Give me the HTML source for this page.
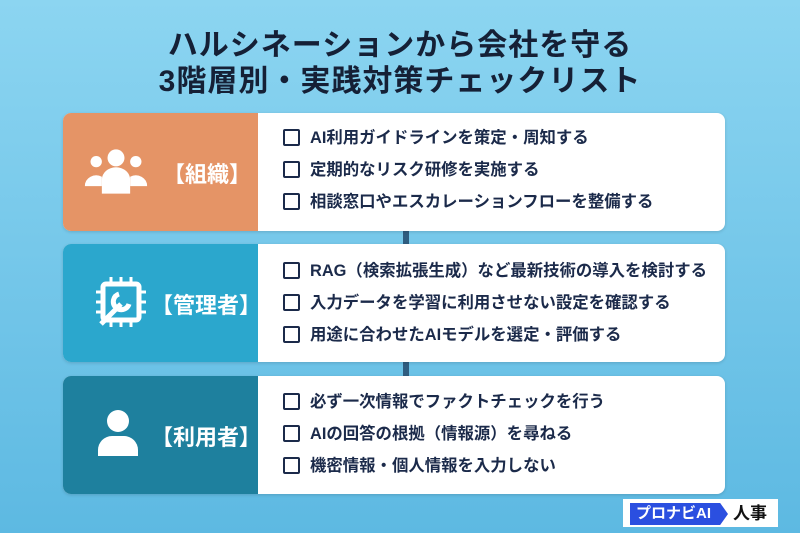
<!DOCTYPE html>
<html><head><meta charset="utf-8"><style>
*{margin:0;padding:0;box-sizing:border-box}
body{width:800px;height:533px;overflow:hidden;background:linear-gradient(#8cd5f1,#5db9e2);font-family:"Liberation Sans","Noto Sans CJK JP",sans-serif;position:relative}
.t{position:absolute;left:0;width:800px;text-align:center;font-weight:bold;font-size:30px;color:#152036;letter-spacing:1px}
.line{position:absolute;left:403px;width:6px;background:#2f5d80}
.card{position:absolute;left:63px;width:662px;height:118px;background:#fff;border-radius:8px;overflow:hidden;box-shadow:0 1px 3px rgba(0,0,0,.15)}
.l{position:absolute;left:0;top:0;width:195px;height:118px;color:#fff;font-weight:bold;font-size:22px}
.l span{position:absolute;top:44px}
.row{position:absolute;left:220px;font-size:16.4px;color:#1b2a4a;font-weight:bold;height:20px;line-height:20px;white-space:nowrap}
.row i{display:inline-block;width:17px;height:17px;border:2px solid #1b2a4a;border-radius:2px;vertical-align:-3px;margin-right:10px}
svg{position:absolute}
</style></head><body>
<div class="t" style="top:20px">ハルシネーションから会社を守る</div>
<div class="t" style="top:56px">3階層別・実践対策チェックリスト</div>
<div class="line" style="top:228px;height:20px"></div>
<div class="line" style="top:359px;height:20px"></div>

<div class="card" style="top:113px">
<div class="l" style="background:#e59466">
<svg width="66" height="50" style="left:20px;top:34px" viewBox="0 0 70 50"><circle cx="35" cy="10" r="9" fill="#fff"/><circle cx="14" cy="14" r="6" fill="#fff"/><circle cx="56" cy="14" r="6" fill="#fff"/><path d="M20 48V33a15 13 0 0 1 30 0v15z" fill="#fff"/><path d="M2 40a12 11 0 0 1 18-10v10z" fill="#fff"/><path d="M68 40a12 11 0 0 0-18-10v10z" fill="#fff"/></svg>
<span style="left:100px">【組織】</span></div>
<div class="row" style="top:15px"><i></i>AI利用ガイドラインを策定・周知する</div>
<div class="row" style="top:47px"><i></i>定期的なリスク研修を実施する</div>
<div class="row" style="top:79px"><i></i>相談窓口やエスカレーションフローを整備する</div>
</div>

<div class="card" style="top:244px">
<div class="l" style="background:#2ba7cd">
<svg width="52" height="52" style="left:32px;top:32px" viewBox="0 0 52 52"><rect x="8" y="8" width="36" height="36" rx="3" fill="none" stroke="#fff" stroke-width="5"/><g stroke="#fff" stroke-width="3"><path d="M16 1v7M26 1v7M36 1v7M16 44v7M26 44v7M36 44v7M1 16h7M1 26h7M1 36h7M44 16h7M44 26h7M44 36h7"/></g><path d="M6 48l20-20M24 18a8 8 0 1 0 10 10" stroke="#fff" stroke-width="5" fill="none"/></svg>
<span style="left:88px">【管理者】</span></div>
<div class="row" style="top:17px"><i></i>RAG（検索拡張生成）など最新技術の導入を検討する</div>
<div class="row" style="top:49px"><i></i>入力データを学習に利用させない設定を確認する</div>
<div class="row" style="top:81px"><i></i>用途に合わせたAIモデルを選定・評価する</div>
</div>

<div class="card" style="top:376px">
<div class="l" style="background:#1e809e">
<svg width="44" height="50" style="left:33px;top:32px" viewBox="0 0 44 50"><circle cx="22" cy="13" r="11" fill="#fff"/><path d="M2 48v-6a14 14 0 0 1 14-14h12a14 14 0 0 1 14 14v6z" fill="#fff"/></svg>
<span style="left:88px">【利用者】</span></div>
<div class="row" style="top:16px"><i></i>必ず一次情報でファクトチェックを行う</div>
<div class="row" style="top:48px"><i></i>AIの回答の根拠（情報源）を尋ねる</div>
<div class="row" style="top:80px"><i></i>機密情報・個人情報を入力しない</div>
</div>

<div style="position:absolute;left:623px;top:499px;width:155px;height:28px;background:#fff"></div>
<div style="position:absolute;left:630px;top:503px;width:98px;height:22px;background:#2b4fe0;clip-path:polygon(0 0,92% 0,100% 50%,92% 100%,0 100%);color:#fff;font-weight:bold;font-size:15px;line-height:22px;padding-left:6px">プロナビAI</div>
<div style="position:absolute;left:733px;top:502px;font-weight:bold;font-size:17px;color:#111;line-height:24px">人事</div>
</body></html>
